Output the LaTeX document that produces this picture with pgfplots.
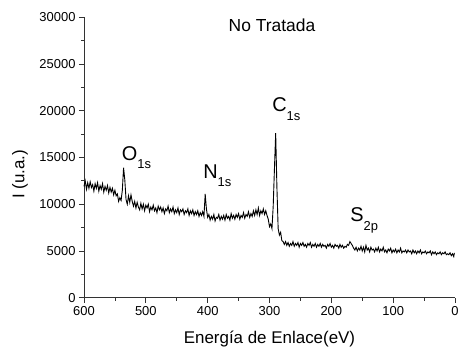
\documentclass[border=0pt]{standalone}
\usepackage{pgfplots}
\pgfplotsset{compat=1.18}
\usepackage{fontspec}
\setmainfont{Liberation Sans}
\newcommand{\pk}[2]{#1\raisebox{-0.42em}{\fontsize{13}{13}\selectfont #2}}
\begin{document}
\begin{tikzpicture}
\path[use as bounding box] (-84bp,-52.3bp) rectangle (374bp,297.7bp);
\begin{axis}[
  width=371bp, height=280.4bp, scale only axis,
  xmin=0, xmax=600, ymin=0, ymax=30000,
  x dir=reverse,
  axis x line*=bottom, axis y line*=left,
  xtick={0,100,...,600}, ytick={0,5000,...,30000},
  minor x tick num=1, minor y tick num=1,
  tick align=outside,
  major tick length=5bp, minor tick length=3bp,
  axis line style={line width=0.8bp, black!80},
  every tick/.style={line width=0.8bp, black!80},
  ticklabel style={font=\fontsize{13}{15}\selectfont},
  /pgf/number format/assume math mode=true,
  /pgf/number format/1000 sep={},
  scaled y ticks=false,
  xlabel={Energía de Enlace(eV)},
  ylabel={I (u.a.)},
  every axis x label/.style={at={(axis description cs:0.5,-0.165)}, anchor=base, font=\fontsize{17}{20}\selectfont},
  every axis y label/.style={at={(axis description cs:-0.1725,0.44)}, rotate=90, anchor=center, font=\fontsize{17}{20}\selectfont},
  clip=false,
]
\addplot[black, line width=0.9bp] table {
600 11900
598 12500
596 11600
594 12300
592 11700
590 12400
588 11800
586 12100
584 11400
582 12200
580 11700
578 12300
576 11400
574 12000
572 11600
570 12200
568 11300
566 11900
564 11500
562 12000
560 11200
558 11800
556 11300
554 11700
552 11000
550 11500
548 10900
546 11100
544 10300
542 10700
540 10400
538 11500
536 13900
534 12600
532 10500
530 10000
528 10900
526 10200
524 11000
522 10300
520 9800
518 10300
516 9600
514 10200
512 9700
510 9400
508 10100
506 9500
504 10000
502 9300
500 9900
498 9600
496 10000
494 9200
492 9700
490 9400
488 9900
486 9300
484 9600
482 9100
480 9800
478 9400
476 9700
474 9200
472 9600
470 9000
468 9500
466 9300
464 9800
462 9100
460 9500
458 9200
456 9700
454 9000
452 9400
450 9100
448 9600
446 8900
444 9400
442 9200
440 9500
438 8900
436 9300
434 9100
432 9500
430 8800
428 9300
426 9000
424 9400
422 8800
420 9200
418 8900
416 9300
414 8700
412 9100
410 8800
408 9200
406 8700
404 11100
402 9500
400 8600
398 8900
396 8300
394 8700
392 8400
390 8900
388 8200
386 8600
384 8500
382 8900
380 8300
378 8700
376 8400
374 8800
372 8300
370 8900
368 8500
366 8700
364 8300
362 9000
360 8500
358 8800
356 8400
354 8900
352 8600
350 9000
348 8400
346 8800
344 8600
342 9100
340 8500
338 8900
336 8700
334 9200
332 8600
330 9000
328 8700
326 9300
324 8800
322 9400
320 8900
318 9600
316 8800
314 9300
312 9000
310 9500
308 8900
306 9300
304 8800
302 8400
300 7600
298 7900
296 7400
294 9800
292 13800
290 17600
288 11800
286 7400
284 6700
282 7000
280 6100
278 6000
276 5700
274 6000
272 5600
270 5900
268 5500
266 5800
264 5600
262 6000
260 5500
258 5800
256 5600
254 5900
252 5400
250 5800
248 5600
246 5900
244 5500
242 5700
240 5400
238 5800
236 5600
234 5900
232 5400
230 5700
228 5500
226 5800
224 5400
222 5700
220 5500
218 5800
216 5400
214 5700
212 5500
210 5600
208 5300
206 5700
204 5500
202 5800
200 5400
198 5600
196 5300
194 5700
192 5500
190 5600
188 5300
186 5700
184 5400
182 5600
180 5300
178 5500
176 5400
174 5700
172 5600
170 6000
168 5800
166 5600
164 5300
162 5100
160 5400
158 5000
156 5300
154 5100
152 5500
150 5000
148 5400
146 4900
144 5600
142 5100
140 5300
138 4900
136 5400
134 5100
132 5200
130 4900
128 5300
126 5000
124 5400
122 4900
120 5200
118 5000
116 5400
114 4900
112 5100
110 4800
108 5200
106 5000
104 5300
102 4800
100 5100
98 4900
96 5200
94 4800
92 5100
90 4900
88 5300
86 4800
84 5000
82 4900
80 5100
78 4800
76 5100
74 4900
72 5000
70 4700
68 5100
66 4800
64 5000
62 4700
60 5000
58 4800
56 5100
54 4700
52 4900
50 4800
48 5000
46 4700
44 4900
42 4800
40 5000
38 4600
36 4900
34 4700
32 4900
30 4600
28 4800
26 4700
24 4900
22 4600
20 4800
18 4700
16 4900
14 4600
12 4700
10 4600
8 4800
6 4500
4 4700
2 4400
1 4800
};
\node[anchor=base, inner sep=0pt, font=\fontsize{17.5}{20}\selectfont] at (axis cs:296,28530) {No Tratada};
\node[anchor=base west, inner sep=0pt, font=\fontsize{20}{24}\selectfont] at (axis cs:539,14700) {\pk{O}{1s}};
\node[anchor=base west, inner sep=0pt, font=\fontsize{20}{24}\selectfont] at (axis cs:407.4,12800) {\pk{N}{1s}};
\node[anchor=base west, inner sep=0pt, font=\fontsize{20}{24}\selectfont] at (axis cs:295.8,19870) {\pk{C}{1s}};
\node[anchor=base west, inner sep=0pt, font=\fontsize{20}{24}\selectfont] at (axis cs:169.6,8100) {\pk{S}{2p}};
\end{axis}
\end{tikzpicture}
\end{document}
